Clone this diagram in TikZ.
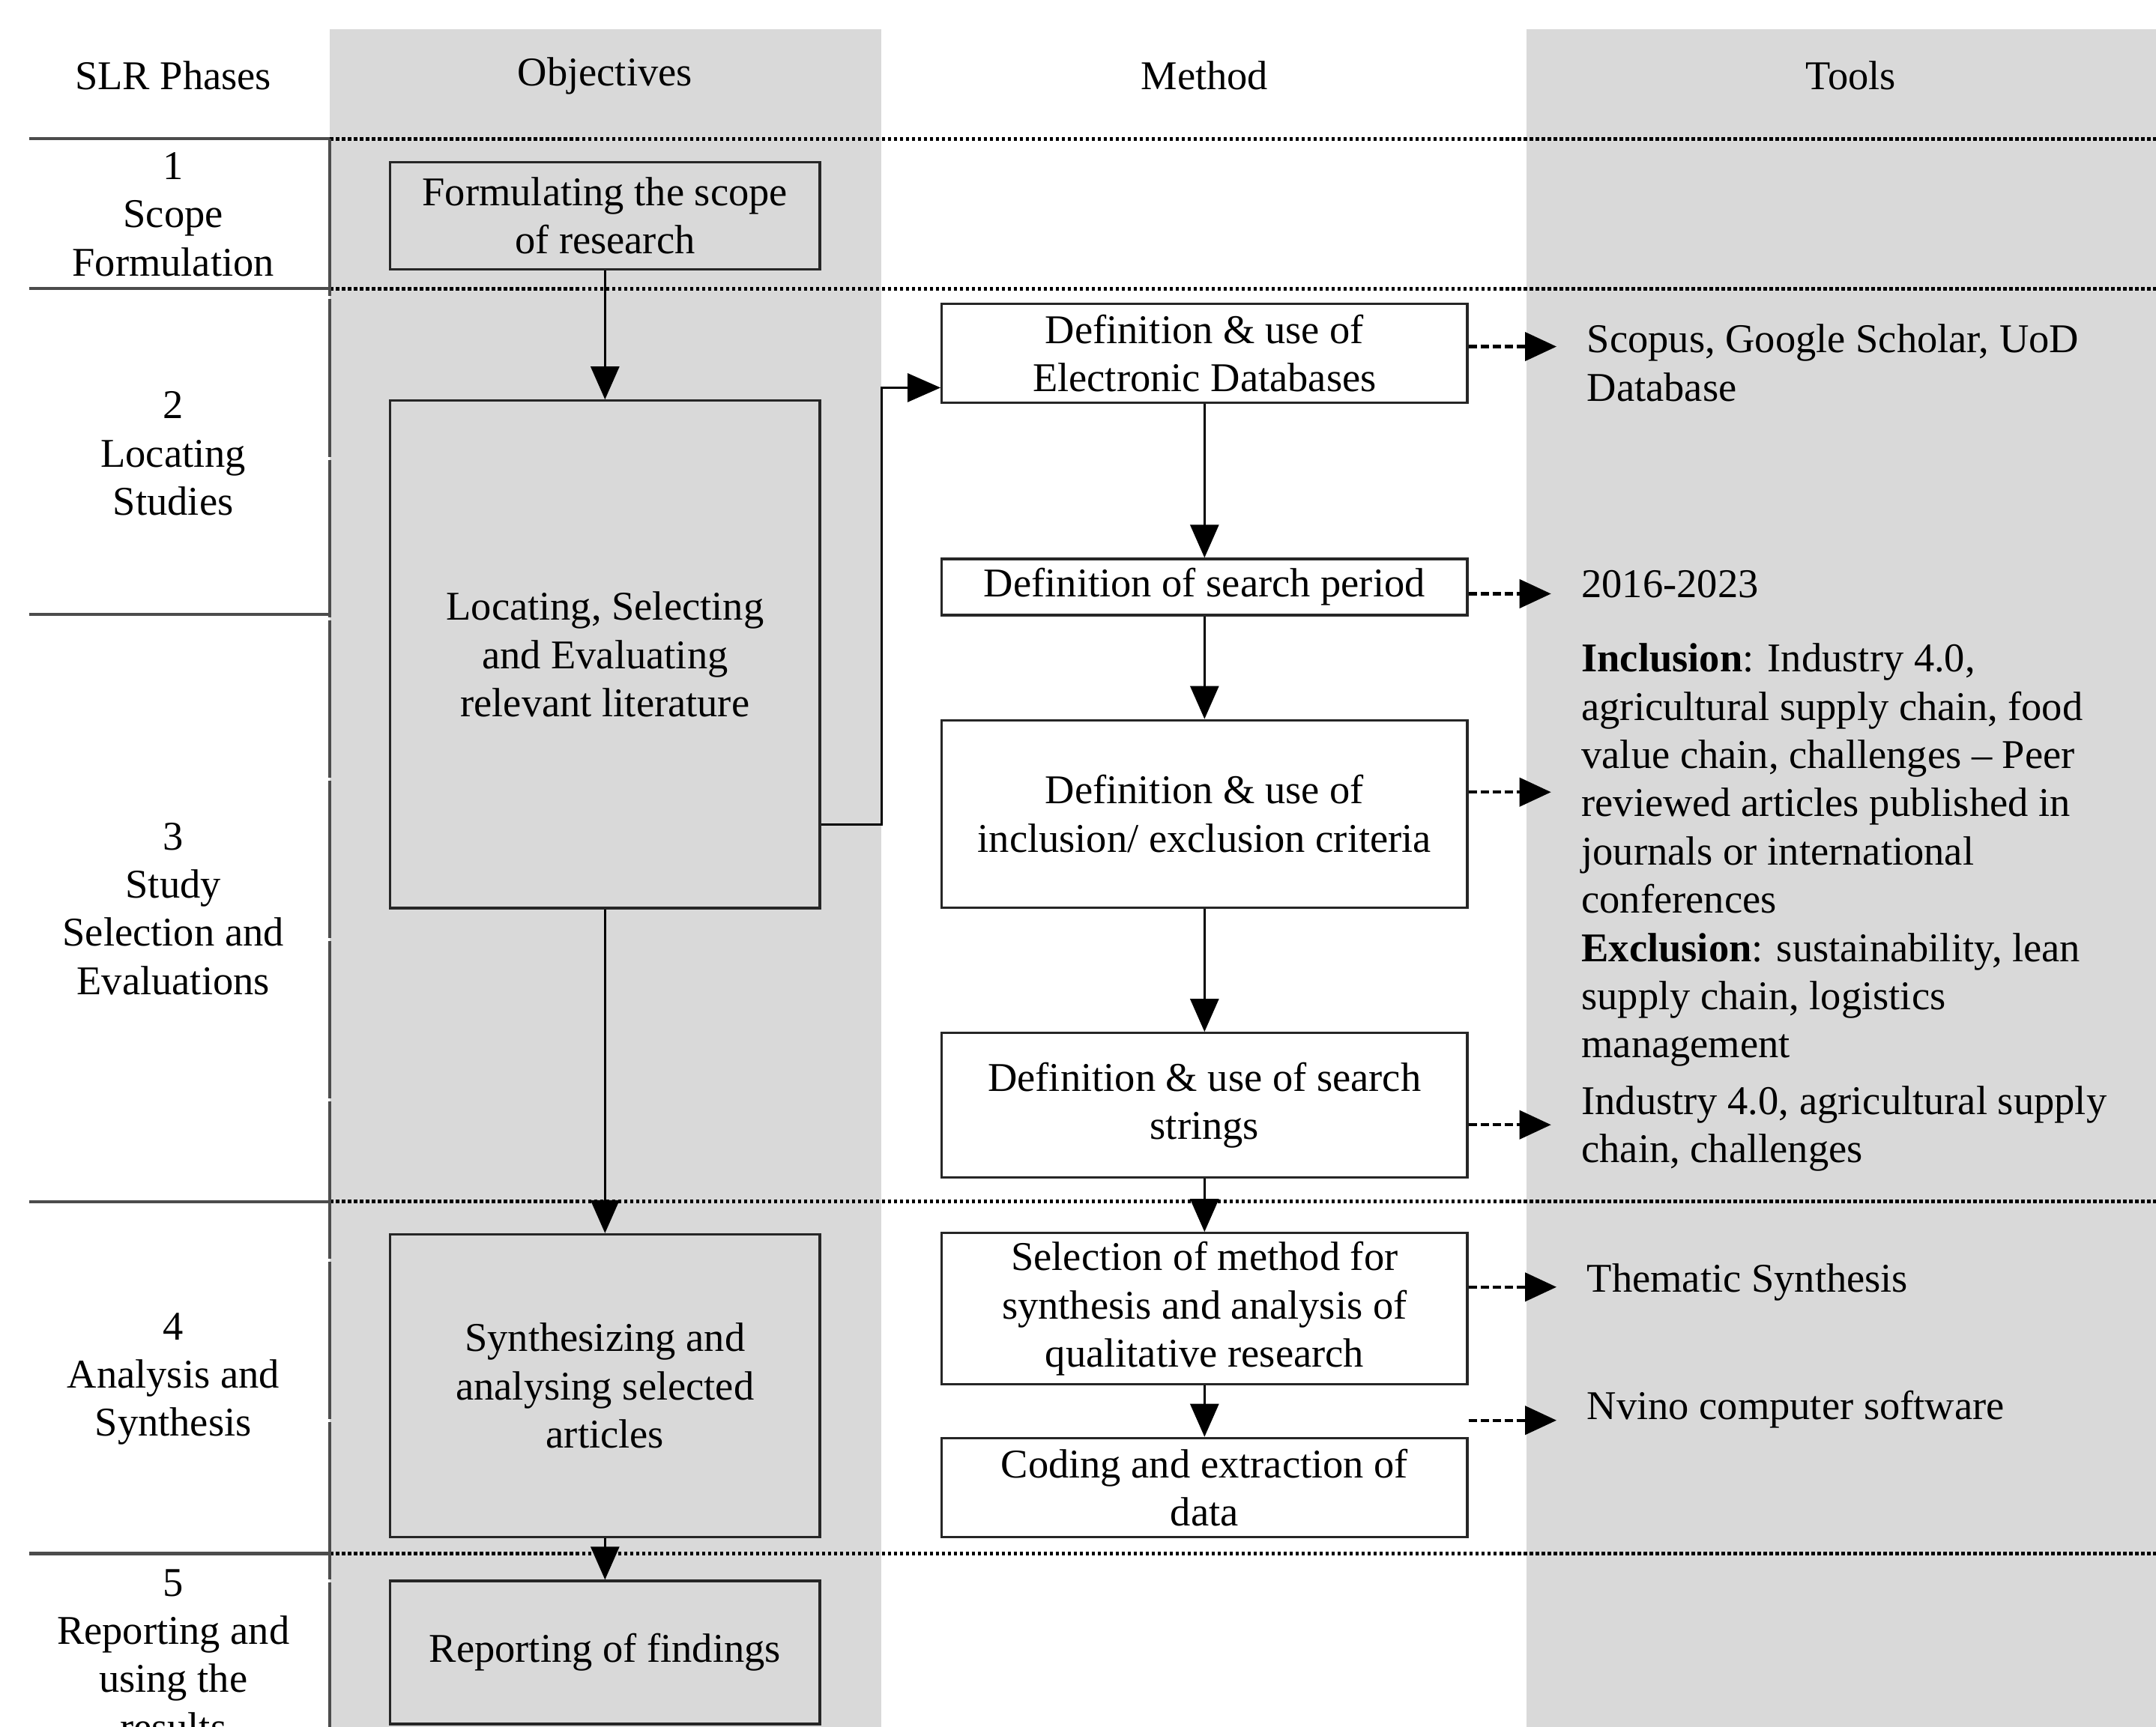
\documentclass[tikz,border=0pt]{standalone}
\usepackage{fontspec}
\setmainfont{Liberation Serif}
\usetikzlibrary{arrows.meta}
\definecolor{colgrey}{RGB}{217,217,217}
\tikzstyle{txt} = [font=\fontsize{15.5}{18.3}\selectfont]
\tikzstyle{phase} = [txt, align=center]
\tikzstyle{objective} = [rectangle, txt, align=center, minimum width=5.73cm, draw=black!85, line width=0.9pt]
\tikzstyle{method} = [rectangle, txt, align=center, minimum width=7.01cm, draw=black!85, line width=0.9pt, fill=white]
\tikzstyle{tool} = [txt, align=left, anchor=west, inner xsep=4mm]
\tikzstyle{arrow} = [line width=0.85pt, -{Triangle[length=4.4mm, width=3.8mm]}]
\tikzstyle{dasharrow} = [line width=1.2pt, dash pattern=on 1.1mm off 0.5mm, -{Triangle[length=4.2mm, width=3.8mm]}]
\tikzstyle{rowline} = [line width=1.2pt, black!70]
\tikzstyle{dotline} = [line width=0.55mm, dash pattern=on 0.45mm off 0.35mm]

\begin{document}
\begin{tikzpicture}[x=0.018348cm, y=-0.018348cm]
\useasboundingbox (0,0) rectangle (1568,1256);
\clip (0,0) rectangle (1568,1256);

% shaded columns
\fill[colgrey] (240,21) rectangle (641,1256);
\fill[colgrey] (1110,21) rectangle (1568,1256);

% headers
\node (hphase) [txt] at (126,55) {SLR Phases};
\node (hobj) [txt] at (440,55) {Objectives};
\node (hmeth) [txt] at (876,55) {Method};
\node (htool) [txt] at (1346,55) {Tools};

% row separators
\foreach \y in {101,210,874,1130} {
    \draw [rowline] (21,\y) -- (240,\y);
    \draw [dotline] (240,\y) -- (1568,\y);
}
\draw [rowline] (21,447) -- (240,447);
\draw [rowline, dash pattern=on 21mm off 0.4mm] (240,101) -- (240,1256);

% phases
\node (ph1) [phase] at (126,156) {1\\Scope\\Formulation};
\node (ph2) [phase] at (126,330) {2\\Locating\\Studies};
\node (ph3) [phase] at (126,661) {3\\Study\\Selection and\\Evaluations};
\node (ph4) [phase] at (126,1003) {4\\Analysis and\\Synthesis};
\node (ph5) [phase] at (126,1204) {5\\Reporting and\\using the\\results};

% objectives
\node (scope) [objective, minimum height=1.43cm] at (440,157) {Formulating the scope\\of research};
\node (locate) [objective, minimum height=6.77cm] at (440,476) {Locating, Selecting\\and Evaluating\\relevant literature};
\node (synth) [objective, minimum height=4.04cm] at (440,1008) {Synthesizing and\\analysing selected\\articles};
\node (report) [objective, minimum height=1.91cm] at (440,1202) {Reporting of findings};

% methods
\node (db) [method, minimum height=1.32cm] at (876,257) {Definition \& use of\\Electronic Databases};
\node (period) [method, minimum height=0.75cm] at (876,427) {Definition of search period};
\node (criteria) [method, minimum height=2.5cm] at (876,592) {Definition \& use of\\inclusion/ exclusion criteria};
\node (strings) [method, minimum height=1.93cm] at (876,804) {Definition \& use of search\\strings};
\node (select) [method, minimum height=1.96cm] at (876,952) {Selection of method for\\synthesis and analysis of\\qualitative research};
\node (coding) [method, minimum height=1.32cm] at (876,1082) {Coding and extraction of\\data};

% tools
\node (dbtool) [tool] at (1132,264) {Scopus, Google Scholar, UoD\\Database};
\node (periodtool) [tool] at (1128,425) {2016-2023};
\node (crittool) [tool] at (1128,622) {\textbf{Inclusion}: Industry 4.0,\\agricultural supply chain, food\\value chain, challenges -- Peer\\reviewed articles published in\\journals or international\\conferences\\\textbf{Exclusion}: sustainability, lean\\supply chain, logistics\\management};
\node (strtool) [tool] at (1128,821) {Industry 4.0, agricultural supply\\chain, challenges};
\node (seltool) [tool] at (1132,933) {Thematic Synthesis};
\node (codtool) [tool] at (1132,1025) {Nvino computer software};

% objective flow
\draw [arrow] (scope) -- (locate);
\draw [arrow] (locate) -- (synth);
\draw [arrow] (synth) -- (report);
\coordinate (elbowlow) at (641,600);
\coordinate (elbowhigh) at (641,282);
\draw [arrow] (locate.east |- elbowlow) -- (elbowlow) -- (elbowhigh) -- (elbowhigh -| db.west);

% method flow
\draw [arrow] (db) -- (period);
\draw [arrow] (period) -- (criteria);
\draw [arrow] (criteria) -- (strings);
\draw [arrow] (strings) -- (select);
\draw [arrow] (select) -- (coding);

% links to tools
\coordinate (dbout) at ([yshift=0.9mm]db.east);
\coordinate (periodout) at ([yshift=-0.9mm]period.east);
\coordinate (critout) at ([yshift=2.9mm]criteria.east);
\coordinate (strout) at ([yshift=-2.6mm]strings.east);
\coordinate (selout) at ([yshift=2.9mm]select.east);
\coordinate (codout) at ([yshift=2.2mm]coding.north east);
\draw [dasharrow] (dbout) -- (dbout -| dbtool.west);
\draw [dasharrow] (periodout) -- (periodout -| periodtool.west);
\draw [dasharrow] (critout) -- (critout -| crittool.west);
\draw [dasharrow] (strout) -- (strout -| strtool.west);
\draw [dasharrow] (selout) -- (selout -| seltool.west);
\draw [dasharrow] (codout) -- (codout -| codtool.west);
\end{tikzpicture}
\end{document}
